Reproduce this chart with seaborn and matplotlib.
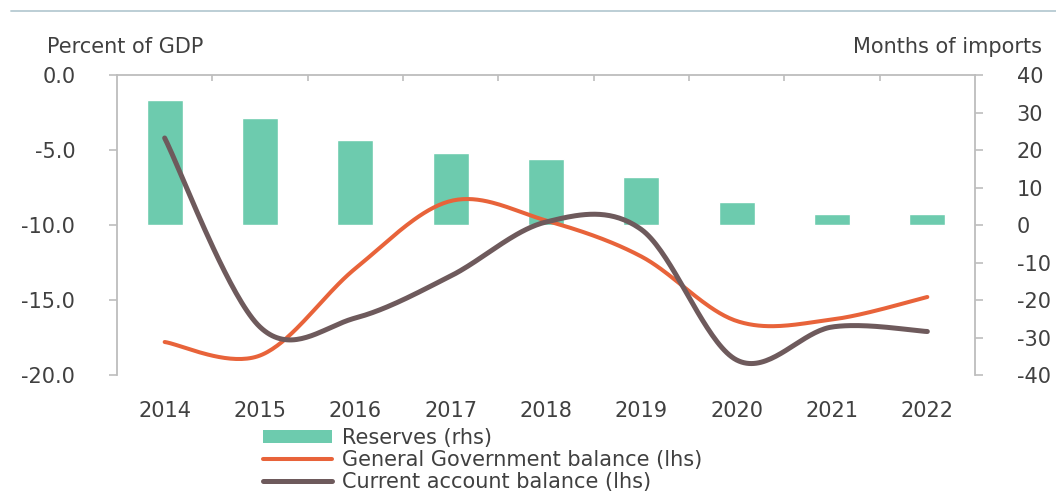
import numpy as np
import matplotlib
matplotlib.use("Agg")
import matplotlib.pyplot as plt
import seaborn as sns
from matplotlib.patches import Patch
from matplotlib.lines import Line2D

# ---------------- data ----------------
years = ["2014", "2015", "2016", "2017", "2018", "2019", "2020", "2021", "2022"]
reserves = [33.3, 28.5, 22.7, 19.2, 17.6, 12.8, 6.1, 2.9, 2.9]          # months of imports (rhs)
gg_balance = [-17.8, -18.7, -12.9, -8.4, -9.7, -12.1, -16.4, -16.3, -14.8]  # % of GDP (lhs)
ca_balance = [-4.2, -16.8, -16.2, -13.4, -9.8, -10.3, -19.0, -16.8, -17.1]  # % of GDP (lhs)
left_ticks = [0.0, -5.0, -10.0, -15.0, -20.0]
right_ticks = [40, 30, 20, 10, 0, -10, -20, -30, -40]

C_BAR = "#6dcbae"
C_GG = "#e8633a"
C_CA = "#6e5a5c"
C_TXT = "#404040"
C_AX = "#bdbdbd"


def smooth(vals, n=40):
    """Catmull-Rom rendering of a line through the data points (like Excel's smoothed line)."""
    p = np.asarray(vals, float)
    pts = np.column_stack([np.arange(len(p), dtype=float), p])
    ext = np.vstack([pts[0], pts, pts[-1]])
    t = np.linspace(0, 1, n)[:, None]
    h00 = 2 * t**3 - 3 * t**2 + 1
    h10 = t**3 - 2 * t**2 + t
    h01 = -2 * t**3 + 3 * t**2
    h11 = t**3 - t**2
    out = []
    for i in range(len(pts) - 1):
        p0, p1, p2, p3 = ext[i], ext[i + 1], ext[i + 2], ext[i + 3]
        m1 = (p2 - p0) / 2
        m2 = (p3 - p1) / 2
        seg = h00 * p1 + h10 * m1 + h01 * p2 + h11 * m2
        out.append(seg if i == 0 else seg[1:])
    return np.vstack(out)


sns.set_style("white")
plt.rcParams["font.family"] = ["DejaVu Sans"]
FS = 15

W, H = 1056, 493
fig = plt.figure(figsize=(W / 100, H / 100), dpi=100)
L, R, T, B = 117, 975, 75, 375
axL = fig.add_axes([L / W, 1 - B / H, (R - L) / W, (B - T) / H])
axR = axL.twinx()

# bars on right axis
sns.barplot(x=list(range(len(years))), y=reserves, ax=axR, color=C_BAR,
            saturation=1, width=0.38, native_scale=True)
axR.set_ylim(-40, 40)

# smoothed lines on left axis
gg_s = smooth(gg_balance)
ca_s = smooth(ca_balance)
sns.lineplot(x=gg_s[:, 0], y=gg_s[:, 1], ax=axL, color=C_GG, lw=2.9, sort=False, estimator=None)
sns.lineplot(x=ca_s[:, 0], y=ca_s[:, 1], ax=axL, color=C_CA, lw=3.6, sort=False, estimator=None)
axL.set_ylim(-20, 0)
axL.set_zorder(axR.get_zorder() + 1)
axL.patch.set_visible(False)

axL.set_xlim(-0.5, len(years) - 0.5)
axR.set_xlim(-0.5, len(years) - 0.5)

# x axis
axL.set_xticks(range(len(years)))
axL.set_xticklabels(years)
axL.tick_params(axis="x", which="major", length=0, pad=19, labelsize=FS, labelcolor=C_TXT)
axL.set_xticks(np.arange(0.5, len(years) - 1, 1.0), minor=True)
axL.tick_params(axis="x", which="minor", top=True, bottom=False, direction="in", length=4,
                color=C_AX, width=1.2)
axR.tick_params(axis="x", which="both", length=0, labelbottom=False)

# y axes
axL.set_yticks(left_ticks)
axL.set_yticklabels([f"{v:.1f}" for v in left_ticks])
axL.tick_params(axis="y", left=True, right=False, direction="out", length=6, width=1.2,
                color=C_AX, pad=24, labelsize=FS, labelcolor=C_TXT)
axR.set_yticks(right_ticks)
axR.set_yticklabels([str(v) for v in right_ticks])
axR.tick_params(axis="y", right=True, left=False, direction="out", length=6, width=1.2,
                color=C_AX, pad=24, labelsize=FS, labelcolor=C_TXT)
axL.set_xlabel("")
axL.set_ylabel("")
axR.set_ylabel("")
axR.set_xlabel("")

for s in ["bottom", "right"]:
    axL.spines[s].set_visible(False)
for s in ["left", "top"]:
    axL.spines[s].set_color(C_AX)
    axL.spines[s].set_linewidth(1.3)
for s in ["bottom", "left", "top"]:
    axR.spines[s].set_visible(False)
axR.spines["right"].set_color(C_AX)
axR.spines["right"].set_linewidth(1.3)

# axis titles
fig.text(47 / W, 1 - 53 / H, "Percent of GDP", ha="left", va="baseline", fontsize=FS, color=C_TXT)
fig.text(1042 / W, 1 - 53 / H, "Months of imports", ha="right", va="baseline", fontsize=FS, color=C_TXT)

# top border line
fig.add_artist(Line2D([11 / W, 1], [1 - 11 / H] * 2, color="#b6cad2", lw=1.3))

# legend
handles = [
    Patch(facecolor=C_BAR, edgecolor="none"),
    Line2D([0], [0], color=C_GG, lw=2.9),
    Line2D([0], [0], color=C_CA, lw=3.6),
]
labels = ["Reserves (rhs)", "General Government balance (lhs)", "Current account balance (lhs)"]
fig.legend(handles, labels, loc="upper left", bbox_to_anchor=(263 / W, 1 - 428 / H),
           frameon=False, fontsize=FS, handlelength=3.3, handleheight=0.6, handletextpad=0.5,
           labelspacing=0.1, borderpad=0, borderaxespad=0, labelcolor=C_TXT)

fig.savefig("out.png", dpi=100)
